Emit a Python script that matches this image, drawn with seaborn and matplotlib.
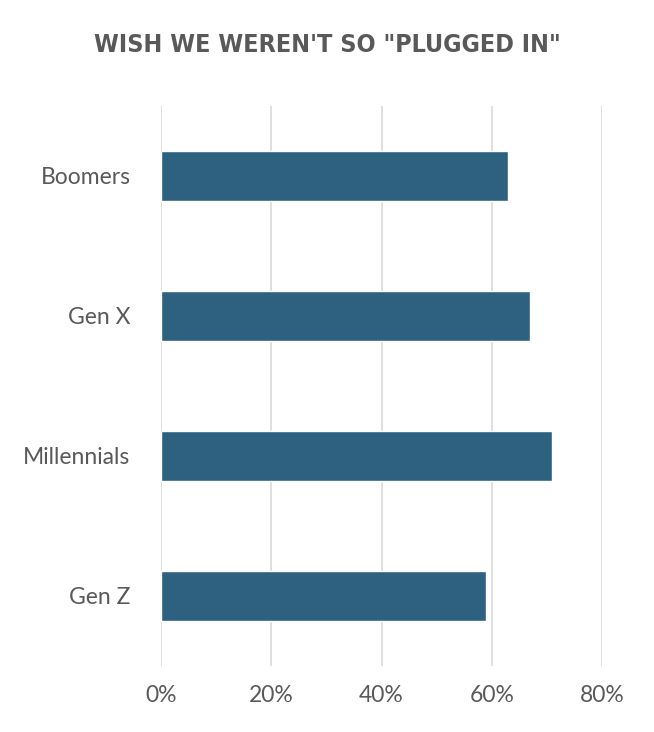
import matplotlib
matplotlib.use("Agg")
import matplotlib.pyplot as plt
import seaborn as sns
import pandas as pd
from matplotlib.ticker import PercentFormatter

generations = ["Boomers", "Gen X", "Millennials", "Gen Z"]
share = [63, 67, 71, 59]
xticks = [0, 20, 40, 60, 80]

df = pd.DataFrame({"generation": generations, "share": share})

sns.set_theme(style="white")
plt.rcParams["font.family"] = ["Lato", "DejaVu Sans"]

fig = plt.figure(figsize=(6.54, 7.32), dpi=100)
ax = fig.add_axes([161 / 654, 1 - 666 / 732, 441 / 654, 560 / 732])

sns.barplot(data=df, x="share", y="generation", color="#2E6180",
            width=0.36, saturation=1, ax=ax, zorder=3)

ax.set_xlim(0, 80)
ax.set_ylim(3.5, -0.5)
ax.set_xticks(xticks)
ax.xaxis.set_major_formatter(PercentFormatter(decimals=0))
ax.grid(axis="x", color="#d9d9d9", linewidth=1.2, zorder=0)
for s in ax.spines.values():
    s.set_visible(False)
ax.set_xlabel("")
ax.set_ylabel("")
ax.tick_params(axis="both", length=0, labelsize=16.5, colors="#595959", pad=22)
ax.tick_params(axis="x", pad=14)

fig.text(0.5, 1 - 45 / 732, 'WISH WE WEREN\'T SO "PLUGGED IN"', ha="center", va="center",
         fontsize=18, fontweight="bold", color="#595959", fontstretch="condensed",
         family=["DejaVu Sans"])

fig.savefig("out.png", dpi=100)
